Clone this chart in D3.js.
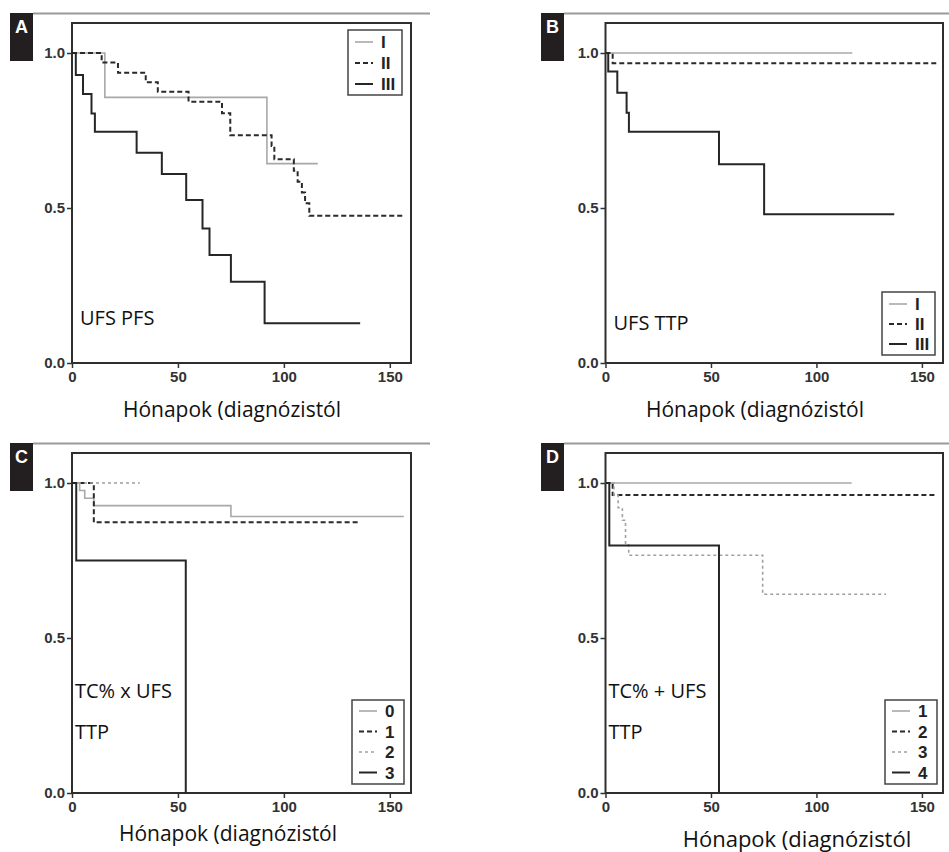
<!DOCTYPE html>
<html><head><meta charset="utf-8">
<script src="https://cdn.jsdelivr.net/npm/d3@7"></script>
<style>
html,body{margin:0;padding:0;background:#fff;}
svg{display:block;}
.tick text{font-family:"Liberation Sans",Arial,sans-serif;font-weight:bold;font-size:15px;fill:#333;}
.tick line{stroke:#333;stroke-width:1.5;}
</style></head>
<body>
<svg id="chart" width="949" height="852"></svg>
<script>
// ---------- data ----------
const xTicks = [0, 50, 100, 150];
const yTicks = [0, 0.5, 1.0];
const xLabel = "Hónapok (diagnózistól";

// Panel A: UFS PFS
const aI_t   = [0, 15.5, 92, 116];
const aI_s   = [1, 0.857, 0.643, 0.643];
const aII_t  = [0, 14, 21.7, 34.8, 40.5, 55, 70.8, 74.7, 94.2, 95.5, 104.7, 106.5, 108.5, 110, 112, 156.5];
const aII_s  = [1, 0.969, 0.936, 0.906, 0.875, 0.843, 0.806, 0.735, 0.70, 0.657, 0.62, 0.585, 0.55, 0.515, 0.475, 0.475];
const aIII_t = [0, 1.8, 5.2, 9.2, 10.8, 30.5, 42.4, 53.9, 61.6, 64.9, 75, 90.9, 136];
const aIII_s = [1, 0.929, 0.868, 0.805, 0.746, 0.678, 0.61, 0.526, 0.434, 0.348, 0.262, 0.128, 0.128];

// Panel B: UFS TTP
const bI_t   = [0, 117];
const bI_s   = [1, 1];
const bII_t  = [0, 3.4, 157];
const bII_s  = [1, 0.967, 0.967];
const bIII_t = [0, 1.3, 5.6, 10, 11.1, 53.8, 75.2, 136.9];
const bIII_s = [1, 0.94, 0.872, 0.807, 0.746, 0.641, 0.48, 0.48];

// Panel C: TC% x UFS TTP
const c0_t = [0, 3.6, 6, 10.3, 75, 156.6];
const c0_s = [1, 0.976, 0.951, 0.927, 0.892, 0.892];
const c1_t = [0, 10.3, 136];
const c1_s = [1, 0.873, 0.873];
const c2_t = [0, 32];
const c2_s = [1, 1];
const c3_t = [0, 2, 53.7];
const c3_s = [1, 0.75, 0];

// Panel D: TC% + UFS TTP
const d1_t = [0, 116.7];
const d1_s = [1, 1];
const d2_t = [0, 3.4, 156];
const d2_s = [1, 0.961, 0.961];
const d3_t = [0, 4, 6, 8, 9.5, 11, 74.5, 133];
const d3_s = [1, 0.96, 0.92, 0.88, 0.80, 0.767, 0.641, 0.641];
const d4_t = [0, 1.8, 53.8];
const d4_s = [1, 0.798, 0];

const legendA = ["I", "II", "III"];
const legendC = ["0", "1", "2", "3"];
const legendD = ["1", "2", "3", "4"];

// ---------- styles ----------
const STY = {
  gray:   {stroke:"#a8a8a8", width:1.6, dash:null},
  dashed: {stroke:"#2a2a2a", width:2,   dash:"5,3"},
  dotted: {stroke:"#a0a0a0", width:1.6, dash:"3,3"},
  solid:  {stroke:"#262626", width:2,   dash:null}
};

const svg = d3.select("#chart");
const zip = (t, s) => t.map((v, i) => ({t: v, s: s[i]}));

function panel(cfg) {
  const W = cfg.w, H = 340;
  const x = d3.scaleLinear().domain([0, 160]).range([0, W]);
  const y = d3.scaleLinear().domain([0, 340 / 310]).range([H, 0]);

  svg.append("line").attr("x1", cfg.ruleX1).attr("x2", cfg.ruleX2)
     .attr("y1", cfg.top - 9.5).attr("y2", cfg.top - 9.5)
     .attr("stroke", "#9a9a9a").attr("stroke-width", 2);
  svg.append("rect").attr("x", cfg.badgeX).attr("y", cfg.top - 10)
     .attr("width", 23).attr("height", 48).attr("fill", "#231f20");
  svg.append("text").attr("x", cfg.badgeX + 11.5).attr("y", cfg.top + 10)
     .attr("text-anchor", "middle").attr("font-family", "Liberation Sans, Arial, sans-serif")
     .attr("font-weight", "bold").attr("font-size", 18).attr("fill", "#fff").text(cfg.letter);

  const g = svg.append("g").attr("transform", `translate(${cfg.left},${cfg.top})`);

  g.append("rect").attr("width", W).attr("height", H)
   .attr("fill", "none").attr("stroke", "#2e2e2e").attr("stroke-width", 2);

  const ya = g.append("g").call(d3.axisLeft(y).tickValues(yTicks).tickFormat(d3.format(".1f")).tickSize(5).tickPadding(2));
  ya.select(".domain").remove();
  const xa = g.append("g").attr("transform", `translate(0,${H})`)
    .call(d3.axisBottom(x).tickValues(xTicks).tickFormat(d3.format("d")).tickSize(5).tickPadding(3));
  xa.select(".domain").remove();

  const line = d3.line().x(d => x(d.t)).y(d => y(d.s)).curve(d3.curveStepAfter);
  cfg.series.forEach(sr => {
    const st = STY[sr.style];
    g.append("path").datum(zip(sr.t, sr.s)).attr("d", line)
      .attr("fill", "none").attr("stroke", st.stroke).attr("stroke-width", st.width)
      .attr("stroke-dasharray", st.dash);
  });

  const L = cfg.legend;
  const lg = svg.append("g").attr("transform", `translate(${L.x},${L.y})`);
  lg.append("rect").attr("width", L.w).attr("height", L.h)
    .attr("fill", "#fff").attr("stroke", "#444").attr("stroke-width", 1.5);
  L.labels.forEach((lab, i) => {
    const st = STY[cfg.series[i].style];
    const yy = L.pad + i * L.step;
    lg.append("line").attr("x1", 7).attr("x2", 25).attr("y1", yy).attr("y2", yy)
      .attr("stroke", st.stroke).attr("stroke-width", st.width).attr("stroke-dasharray", st.dash);
    lg.append("text").attr("x", 33).attr("y", yy + 6)
      .attr("font-family", "Liberation Sans Narrow, Liberation Sans, Arial, sans-serif")
      .attr("font-weight", "bold").attr("font-size", 17).attr("fill", "#222").text(lab);
  });

  cfg.notes.forEach((n, i) => {
    svg.append("text").attr("x", cfg.left + cfg.noteDx).attr("y", cfg.top + cfg.noteY + i * 41)
      .attr("font-family", "Open Sans, Noto Sans, sans-serif").attr("font-size", 20)
      .attr("fill", "#111").text(n);
  });

  svg.append("text").attr("x", cfg.titleX).attr("y", cfg.titleY)
    .attr("text-anchor", "middle").attr("font-family", "Open Sans, Noto Sans, sans-serif")
    .attr("font-size", cfg.titleSize).attr("fill", "#111").text(xLabel);
}

panel({letter:"A", left:72, top:23, w:339, badgeX:10, ruleX1:33, ruleX2:430,
  series:[{t:aI_t,s:aI_s,style:"gray"},{t:aII_t,s:aII_s,style:"dashed"},{t:aIII_t,s:aIII_s,style:"solid"}],
  legend:{x:348, y:30, w:54, h:65, pad:12, step:21, labels:legendA},
  notes:["UFS PFS"], noteDx:8, noteY:302, titleX:232, titleY:417, titleSize:21});

panel({letter:"B", left:605.5, top:23, w:337.5, badgeX:541, ruleX1:564, ruleX2:949,
  series:[{t:bI_t,s:bI_s,style:"gray"},{t:bII_t,s:bII_s,style:"dashed"},{t:bIII_t,s:bIII_s,style:"solid"}],
  legend:{x:882, y:292, w:53, h:63, pad:12, step:20, labels:legendA},
  notes:["UFS TTP"], noteDx:8, noteY:307, titleX:755, titleY:417, titleSize:21});

panel({letter:"C", left:72, top:453, w:339, badgeX:10, ruleX1:33, ruleX2:430,
  series:[{t:c0_t,s:c0_s,style:"gray"},{t:c1_t,s:c1_s,style:"dashed"},{t:c2_t,s:c2_s,style:"dotted"},{t:c3_t,s:c3_s,style:"solid"}],
  legend:{x:352, y:700, w:52, h:84, pad:11, step:20.5, labels:legendC},
  notes:["TC% x UFS", "TTP"], noteDx:3, noteY:245, titleX:228, titleY:841, titleSize:21});

panel({letter:"D", left:605.5, top:453, w:337.5, badgeX:541, ruleX1:564, ruleX2:949,
  series:[{t:d1_t,s:d1_s,style:"gray"},{t:d2_t,s:d2_s,style:"dashed"},{t:d3_t,s:d3_s,style:"dotted"},{t:d4_t,s:d4_s,style:"solid"}],
  legend:{x:885, y:700, w:52, h:84, pad:11, step:20.5, labels:legendD},
  notes:["TC% + UFS", "TTP"], noteDx:3, noteY:245, titleX:797, titleY:847, titleSize:22});
</script>
</body></html>
